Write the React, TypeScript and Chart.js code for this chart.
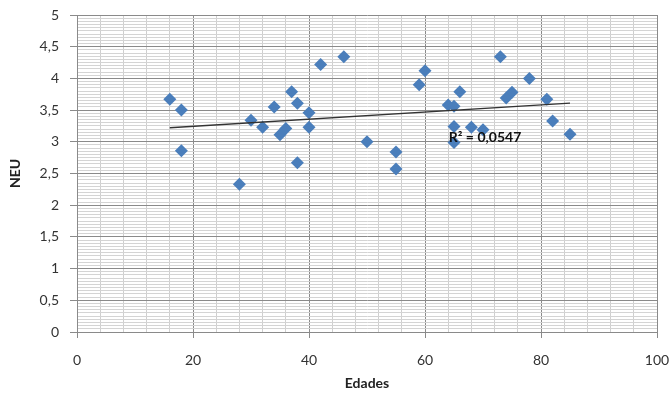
import React, { useEffect, useRef } from "react";
import { Chart, registerables } from "chart.js";

Chart.register(...registerables);

// Scatter data: Edades (x) vs NEU (y)
const edades: number[] = [16, 18, 18, 28, 30, 32, 34, 35, 36, 37, 38, 38, 40, 40, 42, 46, 50, 55, 55, 59, 60, 64, 65, 66, 65, 65, 68, 70, 73, 74, 75, 78, 81, 82, 85];
const neu: number[] = [3.67, 3.5, 2.86, 2.33, 3.34, 3.23, 3.55, 3.11, 3.21, 3.79, 3.61, 2.67, 3.46, 3.23, 4.22, 4.34, 3.0, 2.84, 2.57, 3.9, 4.12, 3.58, 3.56, 3.79, 3.24, 2.99, 3.23, 3.19, 4.34, 3.69, 3.78, 4.0, 3.67, 3.33, 3.12];

// Linear trendline endpoints
const trendX: number[] = [16, 85];
const trendY: number[] = [3.22, 3.61];

const r2Label = "R² = 0,0547";
const xTitle = "Edades";
const yTitle = "NEU";

const FONT = "Lato, 'Open Sans', sans-serif";

const overlayPlugin = {
  id: "overlay",
  afterDatasetsDraw(chart: any) {
    const { ctx, scales, chartArea } = chart;
    ctx.save();
    // R² label
    ctx.font = `bold 14px ${FONT}`;
    ctx.fillStyle = "#111";
    ctx.textAlign = "left";
    ctx.textBaseline = "middle";
    ctx.fillText(r2Label, scales.x.getPixelForValue(64.1), scales.y.getPixelForValue(3.07));
    // axis titles
    ctx.font = `bold 14px ${FONT}`;
    ctx.fillStyle = "#222";
    ctx.textAlign = "center";
    ctx.fillText(xTitle, (chartArea.left + chartArea.right) / 2, 383);
    ctx.translate(15, (chartArea.top + chartArea.bottom) / 2);
    ctx.rotate(-Math.PI / 2);
    ctx.fillText(yTitle, 0, 0);
    ctx.restore();
  },
};

const isMajorY = (v: number) => Math.abs(v * 2 - Math.round(v * 2)) < 1e-6;
const isMajorX = (v: number) => Math.abs(v / 20 - Math.round(v / 20)) < 1e-6;

export default function App() {
  const ref = useRef<HTMLCanvasElement | null>(null);
  useEffect(() => {
    document.body.style.margin = "0";
    const canvas = ref.current!;
    const chart = new Chart(canvas, {
      type: "scatter",
      data: {
        datasets: [
          {
            type: "line",
            label: "Trend",
            data: trendX.map((x, i) => ({ x, y: trendY[i] })),
            borderColor: "#333333",
            borderWidth: 1.5,
            pointRadius: 0,
            fill: false,
            order: 0,
          } as any,
          {
            label: "NEU",
            data: edades.map((x, i) => ({ x, y: neu[i] })),
            pointStyle: "rectRot",
            pointRadius: 6.5,
            pointBackgroundColor: "#4a7ebb",
            pointBorderColor: "#4a7ebb",
            pointBorderWidth: 0,
            order: 1,
          },
        ],
      },
      options: {
        responsive: false,
        animation: false,
        layout: { padding: { top: 15, right: 15, left: 0, bottom: 0 } },
        plugins: { legend: { display: false }, tooltip: { enabled: false } },
        scales: {
          x: {
            type: "linear",
            min: 0,
            max: 100,
            afterFit: (s: any) => { s.height = 69; s.paddingLeft = 0; s.paddingRight = 0; },
            ticks: {
              stepSize: 4,
              autoSkip: false,
              maxTicksLimit: 1000,
              maxRotation: 0,
              padding: 14,
              color: "#333333",
              font: { family: FONT, size: 14 },
              callback: (v: any) => (isMajorX(Number(v)) ? String(Math.round(Number(v))) : ""),
            },
            grid: {
              color: (c: any) => (isMajorX(c.tick.value) ? "#8a8a8a" : "#cfcfcf"),
              tickColor: (c: any) => (isMajorX(c.tick.value) ? "#8a8a8a" : "rgba(0,0,0,0)"),
              tickLength: 6,
              lineWidth: 1,
            },
            border: { color: "#8a8a8a" },
          },
          y: {
            type: "linear",
            min: 0,
            max: 5,
            afterFit: (s: any) => { s.width = 77; s.paddingTop = 0; s.paddingBottom = 0; },
            ticks: {
              stepSize: 0.05,
              autoSkip: false,
              maxTicksLimit: 1000,
              padding: 11,
              color: "#333333",
              font: { family: FONT, size: 14 },
              callback: (v: any) => {
                const n = Number(v);
                if (!isMajorY(n)) return "";
                return (Math.round(n * 2) / 2).toString().replace(".", ",");
              },
            },
            grid: {
              color: (c: any) => (isMajorY(c.tick.value) ? "#8a8a8a" : "#d4d4d4"),
              tickColor: (c: any) => (isMajorY(c.tick.value) ? "#8a8a8a" : "rgba(0,0,0,0)"),
              tickLength: 7,
              lineWidth: 1,
            },
            border: { color: "#8a8a8a" },
          },
        },
      },
      plugins: [overlayPlugin],
    });
    return () => chart.destroy();
  }, []);
  return <canvas ref={ref} width={672} height={401} style={{ display: "block" }} />;
}
